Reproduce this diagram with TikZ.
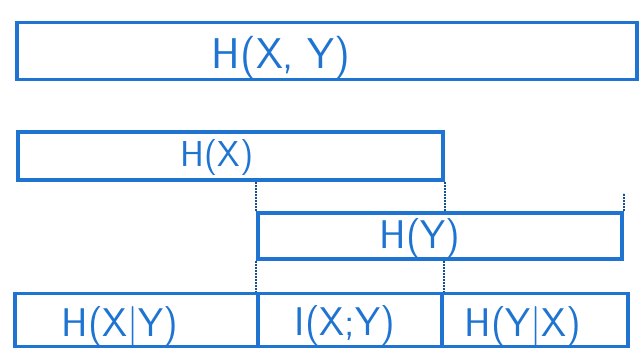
\documentclass[tikz,border=0pt]{standalone}
\usepackage{xcolor}
\usepackage{tikz}
\usetikzlibrary{positioning, calc}
\definecolor{pen}{HTML}{1E74D0}

\begin{document}
\begin{tikzpicture}[x=1pt, y=-1pt,
  bar/.style={rectangle, draw=pen, line width=3.5pt, inner sep=0pt},
  lbl/.style={text=pen, font=\sffamily\fontsize{40}{42}\selectfont, inner sep=0pt},
  guide/.style={pen!70!black, line width=2pt, densely dotted}
]
  \useasboundingbox (0,0) rectangle (641,356);

  % Top row: joint entropy
  \node[bar, minimum width=620pt, minimum height=57pt] (hxy) at (327,51) {};
  \node[lbl, font=\sffamily\fontsize{43}{45}\selectfont] (txy) at (281,58) {H(X, Y)};

  % Middle rows: marginal entropies
  \node[bar, minimum width=425pt, minimum height=48pt] (hx) at (230.5,156) {};
  \node[lbl, font=\sffamily\fontsize{36}{38}\selectfont] (tx) at (217,158) {H(X)};

  \node[bar, minimum width=364pt, minimum height=46pt] (hy) at (440,236) {};
  \node[lbl] (ty) at (420,239) {H(Y)};

  \draw[guide] (hy.north west) -- (hy.north west |- hx.south);
  \draw[guide] (hx.south east) -- (hx.south east |- hy.north);
  \draw[guide] (hy.north east) -- ++(0,-18);

  % Bottom row: decomposition
  \node[bar, minimum width=243pt, minimum height=53pt] (hxgy) at (136.5,320) {};
  \node[bar, minimum width=184pt, minimum height=53pt] (ixy) at (350,320) {};
  \node[bar, minimum width=186pt, minimum height=53pt] (hygx) at (535,320) {};

  \node[lbl] (txgy) at (120,326) {H(X|Y)};
  \node[lbl] (tixy) at (345,326) {I(X;Y)};
  \node[lbl] (tygx) at (523,326) {H(Y|X)};

  \draw[guide] (hy.south west) -- (ixy.north west);
  \draw[guide] (hy.south -| ixy.north east) -- (ixy.north east);

\end{tikzpicture}
\end{document}
